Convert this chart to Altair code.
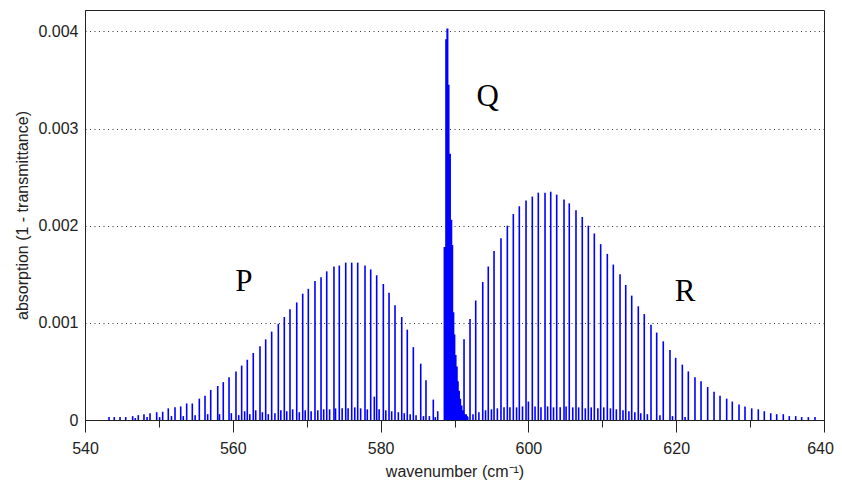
import altair as alt
import pandas as pd

# P-branch line positions (cm^-1) and peak absorptions
P_WN = [543.25, 543.96, 544.74, 545.51, 546.45, 547.21, 547.98, 548.80, 549.70, 550.51,
        551.27, 552.18, 552.95, 553.76, 554.52, 555.47, 556.24, 557.01, 557.96, 558.71,
        559.49, 560.43, 561.20, 561.96, 562.77, 563.68, 564.45, 565.26, 566.16, 566.97,
        567.74, 568.65, 569.46, 570.22, 571.12, 571.94, 572.71, 573.69, 574.41, 575.28,
        576.09, 576.90, 577.89, 578.66, 579.47, 580.37, 581.14, 581.95, 582.86, 583.61,
        584.43, 585.43, 586.14, 587.13, 587.73]
P_H = [0.00003, 0.00003, 0.00003, 0.00003, 0.00004, 0.00005, 0.00006, 0.00007, 0.00008, 0.000085,
       0.00012, 0.00013, 0.00014, 0.00017, 0.00017, 0.00022, 0.00025, 0.00031, 0.00035, 0.00039,
       0.00044, 0.00050, 0.00056, 0.00062, 0.00069, 0.00076, 0.00083, 0.00091, 0.00099, 0.00106,
       0.00114, 0.00121, 0.00130, 0.00135, 0.00143, 0.00147, 0.00153, 0.00158, 0.00159, 0.00162,
       0.00162, 0.00162, 0.00159, 0.00155, 0.00149, 0.00140, 0.00131, 0.00118, 0.00106, 0.00093,
       0.00075, 0.00058, 0.00041, 0.00021, 0.00009]

# R-branch
R_WN = [591.29, 592.10, 592.87, 593.82, 594.57, 595.35, 596.29, 597.15, 597.96, 598.77,
        599.68, 600.53, 601.34, 602.25, 603.02, 603.83, 604.82, 605.53, 606.44, 607.29,
        608.11, 608.92, 609.78, 610.68, 611.49, 612.40, 613.17, 613.98, 614.87, 615.68,
        616.59, 617.36, 618.25, 619.16, 619.93, 620.83, 621.64, 622.54, 623.36, 624.26,
        625.12, 625.93, 626.83, 627.59, 628.50, 629.31, 630.22, 631.11, 631.92, 632.79,
        633.60, 634.49, 635.30, 636.17, 636.98, 637.88, 638.78]
R_H = [0.00083, 0.00104, 0.00123, 0.00142, 0.00158, 0.00174, 0.00187, 0.00200, 0.00212, 0.00220,
       0.00226, 0.00230, 0.00234, 0.00234, 0.00235, 0.00232, 0.00227, 0.00223, 0.00216, 0.00209,
       0.00200, 0.00192, 0.00181, 0.00171, 0.00160, 0.00150, 0.00139, 0.00128, 0.00117, 0.00109,
       0.00098, 0.00090, 0.00081, 0.00072, 0.00064, 0.00057, 0.00050, 0.00044, 0.00040, 0.00034,
       0.00029, 0.00025, 0.00022, 0.00019, 0.00016, 0.00014, 0.00012, 0.00011, 0.00009, 0.00007,
       0.00006, 0.00006, 0.00004, 0.00004, 0.00003, 0.00003, 0.00003]

# Weak (hot-band) lines
WEAK_WN = [546.8, 548.4, 550.1, 551.7, 553.3, 554.9, 556.6, 558.2, 559.8, 560.8,
           561.6, 562.3, 563.1, 564.0, 564.8, 565.7, 566.5, 567.3, 568.1, 569.0,
           569.8, 570.6, 571.5, 572.3, 573.1, 573.9, 574.8, 575.6, 576.5, 577.3,
           578.2, 579.15, 579.8, 580.7, 581.5, 582.4, 583.2, 584.0, 584.8, 585.8,
           586.6, 587.4,
           591.7, 592.5, 593.3, 594.2, 595.0, 595.8, 596.7, 597.5, 598.4, 599.2,
           600.0, 600.9, 601.7, 602.6, 603.4, 604.3, 605.1, 606.0, 606.8, 607.7,
           608.5, 609.4, 610.2, 611.1, 611.9, 612.8, 613.6, 614.4, 615.2, 616.1,
           617.8, 619.5, 621.2]
WEAK_H = [0.00002, 0.00003, 0.00003, 0.00004, 0.00004, 0.00005, 0.00006, 0.00006, 0.00007, 0.00005,
          0.00009, 0.00006, 0.00010, 0.00008, 0.00006, 0.00007, 0.00010, 0.00009, 0.00011, 0.00008,
          0.00010, 0.00009, 0.00010, 0.00011, 0.00011, 0.00012, 0.00012, 0.00012, 0.00013, 0.00012,
          0.00011, 0.00024, 0.00011, 0.00010, 0.00009, 0.00008, 0.00007, 0.00006, 0.00005, 0.00004,
          0.00004, 0.00003,
          0.00004, 0.00006, 0.00008, 0.00010, 0.00011, 0.00012, 0.00013, 0.00013, 0.00013, 0.00014,
          0.00019, 0.00014, 0.00013, 0.00014, 0.00013, 0.00013, 0.00014, 0.00013, 0.00013, 0.00012,
          0.00013, 0.00012, 0.00013, 0.00012, 0.00011, 0.00010, 0.00009, 0.00008, 0.00007, 0.00006,
          0.00005, 0.00004, 0.00003]

# Q-branch envelope (step profile)
Q_WN = [588.52, 588.74, 588.90, 589.18, 589.33, 589.52, 589.70, 589.83, 589.98, 590.12,
        590.28, 590.44, 590.58, 590.74, 590.90, 591.08, 591.30, 591.70, 591.90]
Q_H = [0.00178, 0.00392, 0.00403, 0.00345, 0.00274, 0.00206, 0.00180, 0.00111, 0.00088, 0.00067,
       0.00055, 0.00040, 0.00030, 0.00022, 0.00015, 0.00010, 0.00006, 0.00003, 0.0]

BRANCH_LABELS = ["P", "Q", "R"]
BRANCH_X = [561.5, 594.5, 621.2]
BRANCH_Y = [0.00142, 0.00332, 0.00132]

X_TICKS = [540, 550, 560, 570, 580, 590, 600, 610, 620, 630, 640]
Y_TICKS = [0, 0.001, 0.002, 0.003, 0.004]

BLUE = "#0000ff"
INK = "#222222"

lines = pd.DataFrame({"wn": P_WN + R_WN + WEAK_WN, "h": P_H + R_H + WEAK_H})
lines["zero"] = 0.0
qdf = pd.DataFrame({"wn": Q_WN, "h": Q_H})
labels = pd.DataFrame({"wn": BRANCH_X, "h": BRANCH_Y, "t": BRANCH_LABELS})

xscale = alt.Scale(domain=[540, 640], nice=False, zero=False)
yscale = alt.Scale(domain=[0, 0.00422], nice=False)

xaxis = alt.Axis(
    values=X_TICKS, format="d",
    labelExpr="datum.value % 20 === 0 ? datum.label : ''",
    tickSize={"condition": {"test": "datum.value % 20 === 0", "value": 12}, "value": 7},
    labelOffset={"condition": {"test": "datum.value === 640", "value": -4}, "value": 0},
    labelPadding=8, labelFlush=False, labelOverlap=False,
    grid=False, domainColor=INK, tickColor=INK, tickWidth=1,
    labelFont="Liberation Sans", labelFontSize=16, labelColor=INK,
    title="wavenumber (cm⁻¹)", titleFont="Liberation Sans", titleFontSize=16,
    titleFontWeight="normal", titleColor=INK,
    titleX=369.5, titleY=56, titleBaseline="alphabetic",
)
yaxis = alt.Axis(
    values=Y_TICKS, format=".3~f", ticks=False, labelPadding=7,
    grid=True, gridDash=[1, 3.5], gridColor="#333333", gridWidth=1.2,
    domainColor=INK,
    labelFont="Liberation Sans", labelFontSize=16, labelColor=INK,
    title="absorption (1 - transmittance)", titleFont="Liberation Sans", titleFontSize=16,
    titleFontWeight="normal", titleColor=INK,
    titleX=-63, titleY=205, titleBaseline="middle",
)

X = alt.X("wn:Q", scale=xscale, axis=xaxis)
Y = alt.Y("h:Q", scale=yscale, axis=yaxis)

rules = alt.Chart(lines).mark_rule(color=BLUE, strokeWidth=1.6).encode(
    x=X, y=Y, y2=alt.Y2("zero:Q"),
)

qarea = alt.Chart(qdf).mark_area(color=BLUE, interpolate="step-after", opacity=1).encode(
    x=X, y=Y,
)

text = alt.Chart(labels).mark_text(
    font="Liberation Serif", fontSize=31, color="#000000", baseline="middle", align="center"
).encode(
    x=X, y=Y, text="t:N",
)

chart = alt.layer(rules, qarea, text).properties(
    width=739, height=410,
    autosize=alt.AutoSizeParams(type="none"),
    padding={"left": 77, "top": 2, "right": 10, "bottom": 62},
).configure_view(stroke=INK, strokeWidth=1)

chart.save("out.html", embed_options={"renderer": "svg", "actions": False})
